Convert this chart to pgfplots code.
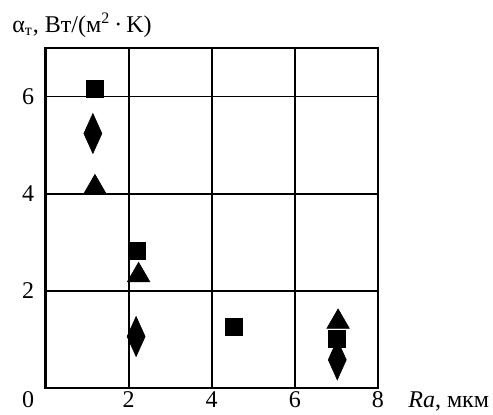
\documentclass[border=0pt]{standalone}
\usepackage{fontspec}
\setmainfont{Liberation Serif}
\usepackage{pgfplots}
\pgfplotsset{compat=1.18}

\begin{document}
\fontsize{12}{14}\selectfont
\begin{tikzpicture}
\begin{axis}[
  scale only axis,
  width=166.25pt, height=170pt,
  xmin=0, xmax=8, ymin=0, ymax=7,
  xtick={2,4,6,8}, ytick={2,4,6},
  major tick length=0pt,
  grid=major,
  grid style={black, line width=0.9pt},
  axis line style={black, line width=1.3pt},
  /pgf/number format/assume math mode=true,
  tick label style={font=\fontsize{12}{14}\selectfont},
  xticklabel style={anchor=center, yshift=-6pt},
  yticklabel style={anchor=center, xshift=-8.75pt},
  clip=false,
]
% squares
\addplot[only marks, mark=square*, mark size=4.25pt, black,
  mark options={fill=black, line width=0.3pt}]
  coordinates {(1.18,6.17) (2.19,2.82) (4.54,1.27) (7.01,1.01)};
% triangles
\addplot[only marks, mark=triangle*, mark size=6.5pt, black,
  mark options={fill=black, line width=0.3pt}]
  coordinates {(1.19,4.13) (2.24,2.32) (7.04,1.36)};
% diamonds
\addplot[only marks, mark=diamond*, mark size=10pt, black,
  mark options={fill=black, line width=0.3pt, xscale=0.6}]
  coordinates {(1.14,5.24) (2.18,1.06) (7.02,0.58)};
\end{axis}
% shared origin label
\node[anchor=center, inner sep=0pt] at ([shift={(-8.75pt,-6pt)}]current axis.south west) {0};
% axis titles
\node[anchor=base west, inner sep=0pt] at ([shift={(-16.75pt,8pt)}]current axis.north west)
  {α\textsubscript{т}, Вт/(м\textsuperscript{2}\,·\,K)};
\node[anchor=base west, inner sep=0pt] at ([shift={(15pt,-10pt)}]current axis.south east)
  {\textit{Ra}, мкм};
% picture frame
\pgfresetboundingbox
\path[use as bounding box]
  ([shift={(-22.75pt,-13.5pt)}]current axis.south west)
  rectangle ([shift={(57.5pt,24pt)}]current axis.north east);
\end{tikzpicture}
\end{document}
